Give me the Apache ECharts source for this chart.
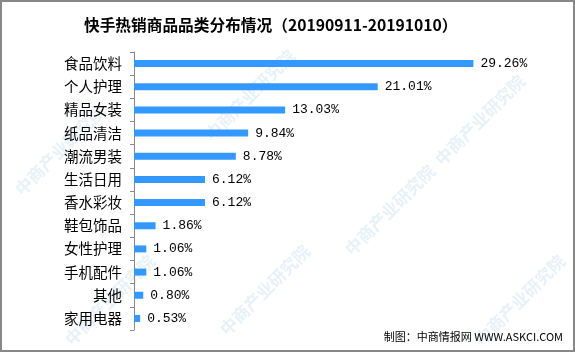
<!DOCTYPE html>
<html>
<head>
<meta charset="utf-8">
<script src="https://cdn.jsdelivr.net/npm/echarts@6/dist/echarts.min.js"></script>
<style>
  html, body { margin: 0; padding: 0; background: #fff; }
  #chart { width: 575px; height: 352px; }
</style>
</head>
<body>
<div id="chart"></div>
<script>
const categories = ["食品饮料", "个人护理", "精品女装", "纸品清洁", "潮流男装", "生活日用",
  "香水彩妆", "鞋包饰品", "女性护理", "手机配件", "其他", "家用电器"];
const shares = [29.26, 21.01, 13.03, 9.84, 8.78, 6.12, 6.12, 1.86, 1.06, 1.06, 0.80, 0.53];

const titleText = "快手热销商品品类分布情况（20190911-20191010）";
const sourceText = "制图：中商情报网 WWW.ASKCI.COM";

// faint diagonal watermark
const marks = [[60, 150], [250, 95], [390, 210], [265, 290], [480, 120], [110, 300], [520, 300]];

const myChart = echarts.init(document.getElementById("chart"));

const option = {
  animation: false,
  title: {
    text: titleText,
    left: 79,
    top: 12,
    textStyle: {
      fontFamily: "Noto Sans CJK SC",
      fontSize: 15.7,
      fontWeight: "bold",
      color: "#000",
    },
  },
  grid: {
    left: 134,
    right: 35,
    top: 52,
    bottom: 22,
  },
  xAxis: {
    type: "value",
    min: 0,
    max: 35,
    show: false,
  },
  yAxis: {
    type: "category",
    inverse: true,
    data: categories,
    axisLine: { lineStyle: { color: "#888", width: 1 } },
    axisTick: { show: true, length: 4, lineStyle: { color: "#888" } },
    axisLabel: {
      color: "#000",
      fontFamily: "Noto Sans CJK SC",
      fontSize: 14.5,
      margin: 12,
    },
  },
  series: [
    {
      type: "bar",
      data: shares,
      barWidth: 7,
      itemStyle: { color: "#3399ff" },
      label: {
        show: true,
        position: "right",
        distance: 7,
        color: "#000",
        fontFamily: "Liberation Mono",
        fontSize: 13,
        formatter: (p) => p.value.toFixed(2) + "%",
      },
    },
  ],
  graphic: [
    ...marks.map(([x, y]) => ({
      type: "text",
      x: x,
      y: y,
      rotation: Math.PI / 4,
      z: -1,
      silent: true,
      style: {
        text: "中商产业研究院",
        fill: "rgba(170,205,230,0.28)",
        font: "bold 17px 'Noto Sans CJK SC'",
        align: "center",
        verticalAlign: "middle",
      },
    })),
    {
      type: "text",
      right: 12,
      top: 331,
      style: {
        text: sourceText,
        fill: "#000",
        font: "11px 'Noto Sans CJK SC'",
      },
    },
    {
      type: "rect",
      shape: { x: 1, y: 1, width: 573, height: 350 },
      silent: true,
      style: { fill: "none", stroke: "#888", lineWidth: 2 },
    },
  ],
};

option && myChart.setOption(option);
</script>
</body>
</html>
